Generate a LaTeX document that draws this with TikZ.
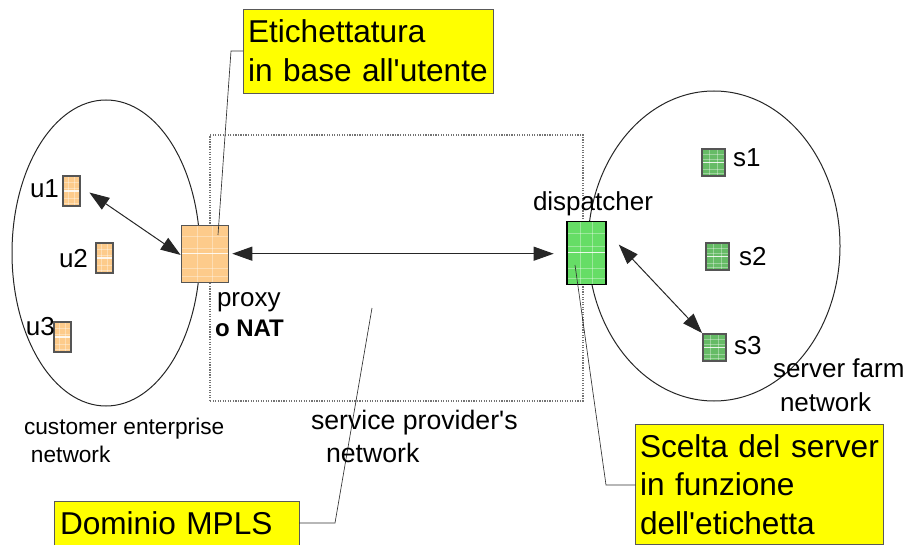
\documentclass[tikz,border=0pt]{standalone}
\usepackage{fontspec}
\setmainfont{Liberation Sans}
\usetikzlibrary{arrows.meta,calc}
\definecolor{orangebox}{HTML}{FDCB8B}
\definecolor{greenbox}{HTML}{66DD66}
\definecolor{greendark}{HTML}{66BB66}
\definecolor{edgegrey}{HTML}{555555}
\definecolor{noteyellow}{HTML}{FFFF00}
\tikzset{
  wh/.style 2 args={minimum width=#1*0.75pt,minimum height=#2*0.75pt},
  padbox/.style={draw=edgegrey,line width=1pt,inner sep=0pt,outer sep=0pt,
    path picture={
      \foreach \f in {0.2,0.4,0.75,0.9}{
        \draw[white,opacity=.35,line width=.5pt]
          ($(path picture bounding box.north west)!\f!(path picture bounding box.south west)$) --
          ($(path picture bounding box.north east)!\f!(path picture bounding box.south east)$);
      }
      \draw[white,opacity=.85,line width=.8pt]
          ($(path picture bounding box.north west)!.5!(path picture bounding box.south west)$) --
          ($(path picture bounding box.north east)!.5!(path picture bounding box.south east)$);
      \foreach \f in {0.33,0.66}{
        \draw[white,opacity=.35,line width=.5pt]
          ($(path picture bounding box.north west)!\f!(path picture bounding box.north east)$) --
          ($(path picture bounding box.south west)!\f!(path picture bounding box.south east)$);
      }
    }},
  orangepad/.style={padbox,fill=orangebox},
  greenpad/.style={padbox,fill=greenbox,draw=black},
  darkpad/.style={padbox,fill=greendark},
  netcurve/.style={draw=black!85,line width=.75pt},
  notebox/.style={draw=black!65,line width=.7pt,fill=noteyellow,inner sep=0pt,outer sep=0pt,
    align=left,font=\fontsize{23.7}{29}\selectfont},
  lbl/.style={inner sep=0pt,outer sep=0pt,anchor=base west,font=\fontsize{19.5}{22}\selectfont},
  smalllbl/.style={lbl,font=\fontsize{17}{22}\selectfont},
  biglink/.style={draw=black!85,line width=.75pt,{Triangle[length=15pt,width=10.5pt]}-{Triangle[length=15pt,width=10.5pt]}},
  leaderline/.style={draw=black!80,line width=.5pt},
  mplsbox/.style={draw=black!55,line width=.9pt,densely dotted}
}
\begin{document}
\begin{tikzpicture}[x=0.75pt,y=-0.75pt]
\useasboundingbox (0,0) rectangle (909,545);
\draw[netcurve] (106,253) ellipse [x radius=94,y radius=153];
\draw[netcurve] (714,246) ellipse [x radius=126,y radius=155];
\node[mplsbox,wh={373}{266},inner sep=0pt,outer sep=0pt] (mpls) at (396.5,268) {};

\node[orangepad,wh={46.5}{57}] (proxy) at (205,253.7) {};
\node[orangepad,wh={17}{30}] (u1) at (71.5,191) {};
\node[orangepad,wh={17}{30}] (u2) at (104.5,258) {};
\node[orangepad,wh={17}{30}] (u3) at (62.5,337) {};
\node[greenpad,wh={39}{63}] (disp) at (586.5,252.7) {};
\node[darkpad,wh={23}{27}] (s1) at (713.5,162.5) {};
\node[darkpad,wh={23}{27}] (s2) at (717.5,256.5) {};
\node[darkpad,wh={23}{27}] (s3) at (714.5,347.5) {};

\draw[biglink,shorten <=8.5pt,shorten >=1pt] (u1.30) -- (proxy.185);
\draw[biglink,shorten <=3pt,shorten >=10pt] (proxy.east) -- (proxy.east -| disp.west);
\draw[biglink,shorten <=14pt,shorten >=1pt] (disp.48) -- (s3.north west);

\node[notebox,wh={250}{84},text width=240*0.75pt] (nE) at (368,51) {Etichettatura\\in base all\textquotesingle utente};
\node[notebox,wh={245}{45},text width=233*0.75pt] (nD) at (176.5,523.5) {Dominio MPLS};
\node[notebox,wh={248}{120},text width=239*0.75pt] (nS) at (759.5,484.5) {Scelta del server\\in funzione\\dell\textquotesingle etichetta};

\coordinate (bE) at (231,51);
\coordinate (tE) at (218,235);
\coordinate (bD) at (335,523);
\coordinate (tD) at (372,308);
\coordinate (bS) at (606,485);
\coordinate (tS) at (575,265);
\draw[leaderline] (nE.west) -- (bE) -- (tE);
\draw[leaderline] (nD.east |- bD) -- (bD) -- (tD);
\draw[leaderline] (nS.west |- bS) -- (bS) -- (tS);

\node[lbl] (lu1) at (30,198) {u1};
\node[lbl] (lu2) at (59,267.7) {u2};
\node[lbl] (lu3) at (26,335) {u3};
\node[lbl] (ls1) at (733,167) {s1};
\node[lbl] (ls2) at (739,265.7) {s2};
\node[lbl] (ls3) at (734,354) {s3};
\node[lbl] (lproxy) at (217,306.7) {proxy};
\node[lbl,font=\fontsize{18}{22}\selectfont\bfseries] (lnat) at (215,336) {o NAT};
\node[lbl] (ldisp) at (533,211) {dispatcher};
\node[smalllbl] (lc1) at (24,434) {customer enterprise};
\node[smalllbl] (lc2) at (31,462.7) {network};
\node[lbl,font=\fontsize{20}{22}\selectfont] (lp1) at (311,429) {service provider\textquotesingle s};
\node[lbl,font=\fontsize{20}{22}\selectfont] (lp2) at (326,462.7) {network};
\node[lbl] (lf1) at (773,377.5) {server farm};
\node[lbl] (lf2) at (780,411) {network};
\end{tikzpicture}
\end{document}
